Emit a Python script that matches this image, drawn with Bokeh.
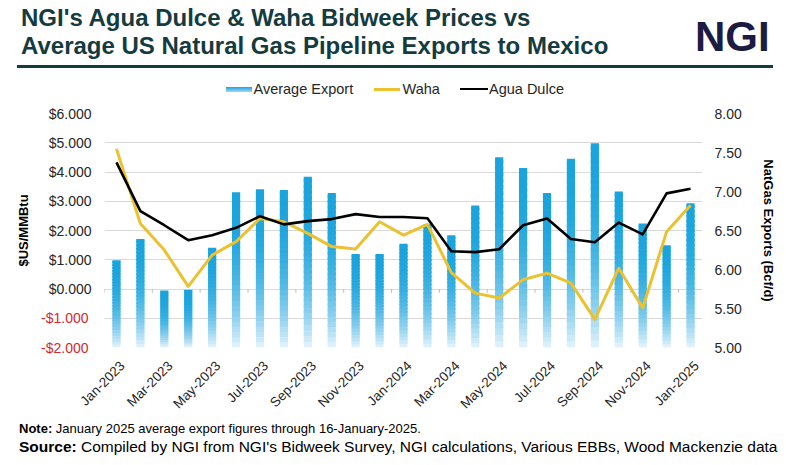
import math
from bokeh.plotting import figure
from bokeh.layouts import column
from bokeh.models import Range1d, LinearAxis, FixedTicker, Div
from bokeh.embed import file_html
from bokeh.resources import INLINE

# ---------------- data ----------------
months = ["Jan-2023", "Feb-2023", "Mar-2023", "Apr-2023", "May-2023", "Jun-2023",
          "Jul-2023", "Aug-2023", "Sep-2023", "Oct-2023", "Nov-2023", "Dec-2023",
          "Jan-2024", "Feb-2024", "Mar-2024", "Apr-2024", "May-2024", "Jun-2024",
          "Jul-2024", "Aug-2024", "Sep-2024", "Oct-2024", "Nov-2024", "Dec-2024",
          "Jan-2025"]
export_bcfd = [6.12, 6.39, 5.73, 5.74, 6.28, 6.99, 7.03, 7.02, 7.19, 6.98, 6.20, 6.20,
               6.33, 6.58, 6.44, 6.82, 7.44, 7.30, 6.98, 7.42, 7.62, 7.00, 6.59, 6.31,
               6.85]
waha = [4.79, 2.24, 1.33, 0.09, 1.16, 1.62, 2.41, 2.30, 1.90, 1.45, 1.37, 2.30,
        1.84, 2.21, 0.56, -0.14, -0.31, 0.32, 0.54, 0.20, -1.04, 0.71, -0.65, 1.96,
        2.86]
agua_dulce = [4.33, 2.66, 2.18, 1.67, 1.84, 2.09, 2.49, 2.21, 2.32, 2.39, 2.56, 2.46,
              2.46, 2.42, 1.29, 1.26, 1.36, 2.18, 2.41, 1.71, 1.60, 2.27, 1.87, 3.27,
              3.43]
left_ticks = [-2, -1, 0, 1, 2, 3, 4, 5, 6]
left_tick_labels = ["-$2.000", "-$1.000", "$0.000", "$1.000", "$2.000", "$3.000",
                    "$4.000", "$5.000", "$6.000"]
right_ticks = [5.0, 5.5, 6.0, 6.5, 7.0, 7.5, 8.0]
right_tick_labels = ["5.00", "5.50", "6.00", "6.50", "7.00", "7.50", "8.00"]
series_names = ["Average Export", "Waha", "Agua Dulce"]
title_lines = ["NGI's Agua Dulce &amp; Waha Bidweek Prices vs",
               "Average US Natural Gas Pipeline Exports to Mexico"]
logo_text = "NGI"
note_head, note_body = "Note:", "January 2025 average export figures through 16-January-2025."
source_head, source_body = "Source:", ("Compiled by NGI from NGI's Bidweek Survey, NGI calculations, "
                                       "Various EBBs, Wood Mackenzie data")

# ---------------- styling ----------------
FONT = "Liberation Sans"
TITLE_C = "#143c40"
LOGO_C = "#1c1b40"
TEXT_C = "#262626"
RED_C = "#d42a2c"
WAHA_C = "#EBC12F"
GRID_C = "#d9d9d9"
TOP_RGB = (26, 164, 221)
BOT_RGB = (228, 244, 252)
XLABEL_SHIFT = 0.25        # rotated month labels sit slightly right of the bar centre

W = 792
HEAD_H = 100
FOOT_H = 46
FIG_H = 465 - HEAD_H - FOOT_H           # 319
FL, FR = 104, 90
FT = 113 - HEAD_H                        # frame top at page y 113
FB = FIG_H - (348 - HEAD_H)              # frame bottom at page y 348

n = len(months)
xs = list(range(n))

p = figure(width=W, height=FIG_H, output_backend="svg", toolbar_location=None,
           x_range=Range1d(-0.5, n - 0.5), y_range=Range1d(left_ticks[0], left_ticks[-1]),
           min_border_left=FL, min_border_right=FR, min_border_top=FT, min_border_bottom=FB)
p.extra_y_ranges = {"exp": Range1d(right_ticks[0], right_ticks[-1])}
p.outline_line_color = None
p.background_fill_color = "white"
p.border_fill_color = "white"

# gradient bars built from export values
nseg = 30
bx, bb, bt, bc = [], [], [], []
base = right_ticks[0]
for i, v in enumerate(export_bcfd):
    h = v - base
    for k in range(nseg):
        b = base + h * k / nseg
        t = base + h * (k + 1) / nseg
        if k < nseg - 1:
            t += h / nseg * 0.6
        f = (k + 0.5) / nseg
        fe = 1 - (1 - f) ** 2.5
        c = tuple(round(BOT_RGB[j] + (TOP_RGB[j] - BOT_RGB[j]) * fe) for j in range(3))
        bx.append(i); bb.append(b); bt.append(t); bc.append("#%02x%02x%02x" % c)
bars = p.vbar(x=bx, bottom=bb, top=bt, width=0.34, fill_color=bc, line_color=None,
              y_range_name="exp")

# zero-line tick marks at every other category boundary
tick_x = [k - 0.5 for k in range(0, n + 1, 2)]
p.segment(x0=tick_x, y0=[0] * len(tick_x), x1=tick_x, y1=[-0.13] * len(tick_x),
          line_color="#bfbfbf", line_width=1)

r_waha = p.line(xs, waha, line_color=WAHA_C, line_width=3, line_join="round")
r_agua = p.line(xs, agua_dulce, line_color="black", line_width=2.6, line_join="round")

# ---------------- axes ----------------
def style_axis(ax, color=TEXT_C, size="14px"):
    ax.axis_line_color = None
    ax.major_tick_line_color = None
    ax.minor_tick_line_color = None
    ax.major_tick_out = 0
    ax.major_tick_in = 0
    ax.minor_tick_out = 0
    ax.major_label_text_font = FONT
    ax.major_label_text_font_size = size
    ax.major_label_text_color = color

label_idx = list(range(0, n, 2))
p.xaxis.ticker = FixedTicker(ticks=[i + XLABEL_SHIFT for i in label_idx])
p.xaxis.major_label_overrides = {i + XLABEL_SHIFT: months[i] for i in label_idx}
p.xaxis.major_label_orientation = math.pi / 4
style_axis(p.xaxis[0], size="13.5px")
p.xaxis.major_label_standoff = 16

# inner left axis: non-negative prices (dark labels)
pos_ticks = [t for t in left_ticks if t >= 0]
neg_ticks = [t for t in left_ticks if t < 0]
yl = p.yaxis[0]
yl.ticker = FixedTicker(ticks=pos_ticks)
yl.major_label_overrides = {t: lab for t, lab in zip(left_ticks, left_tick_labels) if t >= 0}
style_axis(yl)
yl.major_label_standoff = 13

# outer left axis: negative prices (red labels), pulled back over the inner one
yneg = LinearAxis(ticker=FixedTicker(ticks=neg_ticks))
yneg.major_label_overrides = {t: lab for t, lab in zip(left_ticks, left_tick_labels) if t < 0}
style_axis(yneg, color=RED_C)
yneg.major_label_standoff = -43
yneg.axis_label = "$US/MMBtu"
yneg.axis_label_text_font = FONT
yneg.axis_label_text_font_size = "13px"
yneg.axis_label_text_font_style = "bold"
yneg.axis_label_text_color = "black"
yneg.axis_label_standoff = 7
p.add_layout(yneg, "left")

yr = LinearAxis(y_range_name="exp", ticker=FixedTicker(ticks=right_ticks))
yr.major_label_overrides = {t: lab for t, lab in zip(right_ticks, right_tick_labels)}
style_axis(yr)
yr.major_label_standoff = 12
yr.axis_label = "NatGas Exports (Bcf/d)"
yr.axis_label_text_font = FONT
yr.axis_label_text_font_size = "13px"
yr.axis_label_text_font_style = "bold"
yr.axis_label_text_color = "black"
yr.axis_label_standoff = 16
p.add_layout(yr, "right")

p.xgrid.grid_line_color = None
p.ygrid.ticker = FixedTicker(ticks=left_ticks)
p.ygrid.grid_line_color = GRID_C
p.ygrid.grid_line_width = 1

# ---------------- header (title, logo, legend) and footer ----------------
def abs_text(top, left, size, txt, color, weight="bold"):
    return (f'<div style="position:absolute;top:{top}px;left:{left}px;font-family:\'{FONT}\';'
            f'font-size:{size}px;line-height:1;font-weight:{weight};color:{color};'
            f'white-space:nowrap;">{txt}</div>')

def abs_box(top, left, w, h, bg):
    return (f'<div style="position:absolute;top:{top}px;left:{left}px;width:{w}px;'
            f'height:{h}px;background:{bg};"></div>')

bar_swatch = "linear-gradient(to bottom, #1aa4dd, #9fd8f3)"
head_html = ('<div style="position:relative;width:792px;height:100px;">'
             + abs_text(6.4, 21, 24, title_lines[0], TITLE_C)
             + abs_text(33.7, 21, 24, title_lines[1], TITLE_C)
             + abs_text(16.1, 695, 42, logo_text, LOGO_C)
             + abs_box(64.5, 17, 756, 3, TITLE_C)
             # legend
             + abs_box(87, 226, 26, 4.5, bar_swatch)
             + abs_text(82, 253.5, 14.5, series_names[0], TEXT_C, "normal")
             + abs_box(87.5, 374, 26, 3, WAHA_C)
             + abs_text(82, 402.5, 14.5, series_names[1], TEXT_C, "normal")
             + abs_box(87.7, 460, 28, 2.6, "#000000")
             + abs_text(82, 489, 14.5, series_names[2], TEXT_C, "normal")
             + '</div>')
header = Div(text=head_html, width=W, height=HEAD_H, margin=0)

foot_html = ('<div style="position:relative;width:792px;height:46px;">'
             + abs_text(2.5, 19, 13, f'{note_head} <span style="font-weight:normal">{note_body}</span>', "black")
             + abs_text(20.3, 19, 15.5, f'{source_head} <span style="font-weight:normal">{source_body}</span>', "black")
             + '</div>')
footer = Div(text=foot_html, width=W, height=FOOT_H, margin=0)

layout = column(header, p, footer, spacing=0)
open("out.html", "w").write(file_html(layout, INLINE))
